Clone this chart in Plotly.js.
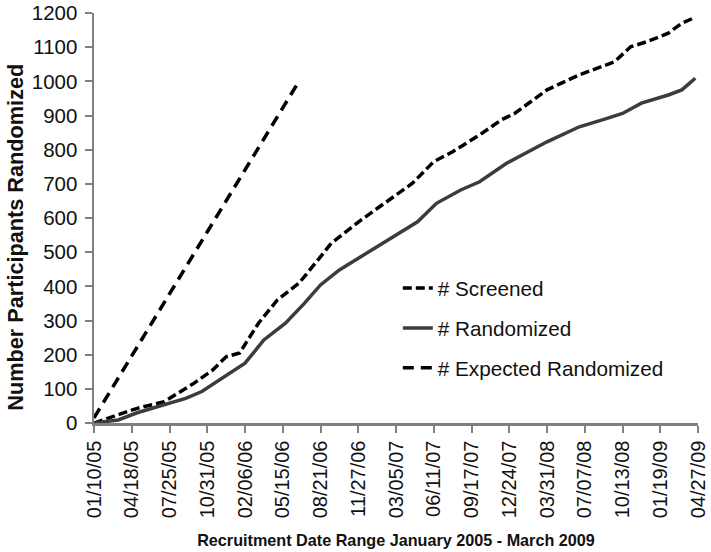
<!DOCTYPE html>
<html>
<head>
<meta charset="utf-8">
<script src="https://cdn.plot.ly/plotly-3.0.1.min.js"></script>
<style>html,body{margin:0;padding:0;background:#fff;}#chart{width:711px;height:552px;}</style>
</head>
<body>
<div id="chart"></div>
<script>
// x = weeks since 01/10/05
var tickWeeks = [0,14,28,42,56,70,84,98,112,126,140,154,168,182,196,210,224];
var tickLabels = ['01/10/05','04/18/05','07/25/05','10/31/05','02/06/06','05/15/06','08/21/06','11/27/06','03/05/07','06/11/07','09/17/07','12/24/07','03/31/08','07/07/08','10/13/08','01/19/09','04/27/09'];
var yTicks = [0,100,200,300,400,500,600,700,800,900,1000,1100,1200];

var screenedWeeks = [0,9,16,26,30,37,44,49,54,57,61,68,76,82,88,99,106,118,126,133,143,151,156,168,180,193,199,205,213,218,222];
var screenedVals  = [0,23,43,62,82,116,155,194,205,243,292,360,409,467,526,594,633,701,765,794,843,887,906,975,1019,1057,1101,1116,1141,1170,1184];

var randomizedWeeks = [0,9,16,26,34,40,49,56,63,71,78,84,91,101,111,120,127,136,143,153,168,180,190,196,203,208,213,218,221,223];
var randomizedVals  = [0,9,30,53,72,92,140,175,243,292,350,404,448,497,545,589,643,682,706,760,823,867,891,906,936,947,960,975,994,1009];

var expectedWeeks = [0,76];
var expectedVals  = [15,1000];

var traces = [
  {x: screenedWeeks, y: screenedVals, type:'scatter', mode:'lines', name:'# Screened', legendgroup:'a',
   line:{color:'#000000', width:3.5, dash:'9px,4px'}},
  {x: randomizedWeeks, y: randomizedVals, type:'scatter', mode:'lines', name:'# Randomized', legendgroup:'b',
   line:{color:'#3c3c3c', width:3.5}},
  {x: expectedWeeks, y: expectedVals, type:'scatter', mode:'lines', name:'# Expected Randomized', legendgroup:'c',
   line:{color:'#000000', width:3.5, dash:'11px,7px'}}
];

var layout = {
  width:711, height:552,
  margin:{l:94, r:13, t:13, b:129},
  paper_bgcolor:'#ffffff', plot_bgcolor:'#ffffff',
  font:{family:'Arial, "Liberation Sans", sans-serif', color:'#111111'},
  showlegend:true,
  legend:{x:0.503, y:0.378, xanchor:'left', yanchor:'top', font:{size:20.7, color:'#111111'},
          tracegroupgap:10, bgcolor:'rgba(0,0,0,0)', itemwidth:30},
  xaxis:{range:[0,224], tickmode:'array', tickvals:tickWeeks, ticktext:tickLabels, tickangle:-90,
         showgrid:false, zeroline:false, showline:true, linecolor:'#808080', linewidth:2.5,
         ticks:'outside', ticklen:7, tickwidth:2, tickcolor:'#808080',
         tickfont:{size:20, color:'#111111'},
         title:{text:'Recruitment Date Range January 2005 - March 2009', font:{size:16.2, color:'#111111', weight:'bold'}, standoff:18}},
  yaxis:{range:[0,1200], tickmode:'array', tickvals:yTicks,
         showgrid:false, zeroline:false, showline:true, linecolor:'#808080', linewidth:2.5,
         ticks:'outside', ticklen:7, tickwidth:2, tickcolor:'#808080', ticklabelstandoff:3,
         tickfont:{size:20.5, color:'#111111'}},
  annotations:[{text:'Number Participants Randomized', textangle:-90, xref:'paper', yref:'paper',
                x:-0.129, y:0.452, xanchor:'center', yanchor:'middle', showarrow:false,
                font:{size:21.7, color:'#111111', weight:'bold'}}]
};

Plotly.newPlot('chart', traces, layout, {displayModeBar:false, staticPlot:true});
</script>
</body>
</html>
